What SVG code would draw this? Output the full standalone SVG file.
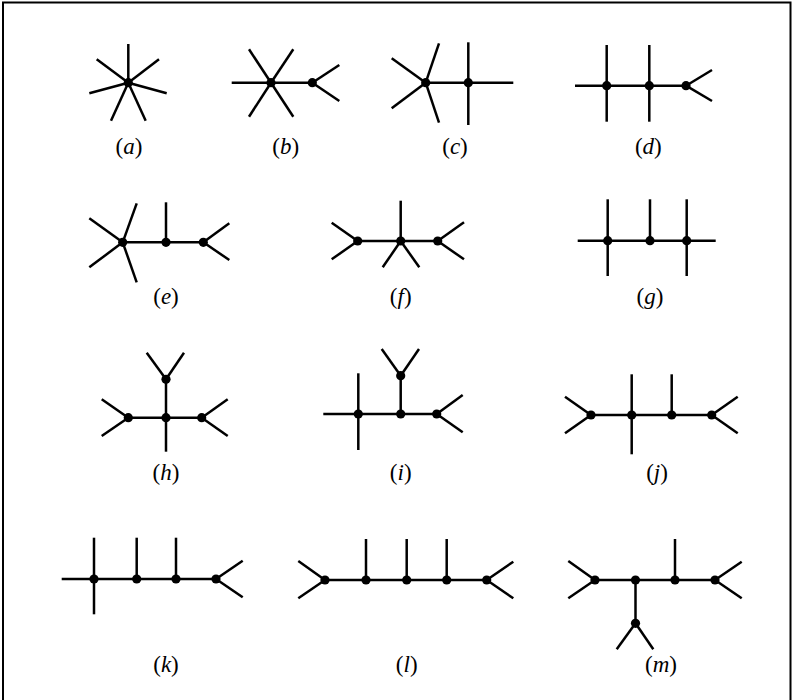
<svg xmlns="http://www.w3.org/2000/svg" width="793" height="700" viewBox="0 0 793 700">
<style>
.e{stroke:#000;stroke-width:2.5;stroke-linecap:butt;fill:none}
.v{fill:#000}
.lbl{font-family:"Liberation Serif","DejaVu Serif",serif;font-size:23px;fill:#000;text-anchor:middle}
.it{font-style:italic}
</style>
<rect x="0" y="0" width="793" height="700" fill="#fff"/>
<rect x="3" y="2.5" width="787.5" height="700" fill="none" stroke="#000" stroke-width="2"/>

<g id="fig-a">
<g class="connectors">
<line class="e" x1="128.3" y1="82.7" x2="128.3" y2="44"/>
<line class="e" x1="128.3" y1="82.7" x2="96.7" y2="59.3"/>
<line class="e" x1="128.3" y1="82.7" x2="159" y2="59.3"/>
<line class="e" x1="128.3" y1="82.7" x2="89.3" y2="93.3"/>
<line class="e" x1="128.3" y1="82.7" x2="166.7" y2="93.3"/>
<line class="e" x1="128.3" y1="82.7" x2="111" y2="120.7"/>
<line class="e" x1="128.3" y1="82.7" x2="145.7" y2="120.7"/>
</g>
<circle id="a1" class="v" cx="128.3" cy="82.7" r="4.6"/>
<text class="lbl" x="129" y="154">(<tspan class="it">a</tspan>)</text>
</g>

<g id="fig-b">
<g class="connectors">
<line class="e" x1="231.7" y1="82.7" x2="312.3" y2="82.7"/>
<line class="e" x1="271" y1="82.7" x2="249" y2="49.3"/>
<line class="e" x1="271" y1="82.7" x2="293.3" y2="49.3"/>
<line class="e" x1="271" y1="82.7" x2="249" y2="116.7"/>
<line class="e" x1="271" y1="82.7" x2="293.3" y2="116.7"/>
<line class="e" x1="312.3" y1="82.7" x2="339.3" y2="65"/>
<line class="e" x1="312.3" y1="82.7" x2="339.3" y2="101"/>
</g>
<circle id="b1" class="v" cx="271" cy="82.7" r="4.6"/>
<circle id="b2" class="v" cx="312.3" cy="82.7" r="4.6"/>
<text class="lbl" x="285.7" y="154">(<tspan class="it">b</tspan>)</text>
</g>

<g id="fig-c">
<g class="connectors">
<line class="e" x1="425.7" y1="82.7" x2="391.7" y2="58.3"/>
<line class="e" x1="425.7" y1="82.7" x2="391.7" y2="108.3"/>
<line class="e" x1="425.7" y1="82.7" x2="439" y2="43.3"/>
<line class="e" x1="425.7" y1="82.7" x2="439" y2="122.7"/>
<line class="e" x1="425.7" y1="82.7" x2="513.3" y2="82.7"/>
<line class="e" x1="468.3" y1="42.3" x2="468.3" y2="125"/>
</g>
<circle id="c1" class="v" cx="425.7" cy="82.7" r="4.6"/>
<circle id="c2" class="v" cx="468.3" cy="82.7" r="4.6"/>
<text class="lbl" x="455" y="154">(<tspan class="it">c</tspan>)</text>
</g>

<g id="fig-d">
<g class="connectors">
<line class="e" x1="575" y1="85.7" x2="686" y2="85.7"/>
<line class="e" x1="606.7" y1="45" x2="606.7" y2="121.7"/>
<line class="e" x1="649.3" y1="45" x2="649.3" y2="121.7"/>
<line class="e" x1="686" y1="85.7" x2="712" y2="70"/>
<line class="e" x1="686" y1="85.7" x2="712" y2="101"/>
</g>
<circle id="d1" class="v" cx="606.7" cy="85.7" r="4.6"/>
<circle id="d2" class="v" cx="649.3" cy="85.7" r="4.6"/>
<circle id="d3" class="v" cx="686" cy="85.7" r="4.6"/>
<text class="lbl" x="648.3" y="154">(<tspan class="it">d</tspan>)</text>
</g>

<g id="fig-e">
<g class="connectors">
<line class="e" x1="122.7" y1="242.3" x2="89.3" y2="218.3"/>
<line class="e" x1="122.7" y1="242.3" x2="89.3" y2="267.3"/>
<line class="e" x1="122.7" y1="242.3" x2="136.7" y2="203.3"/>
<line class="e" x1="122.7" y1="242.3" x2="136.7" y2="282.3"/>
<line class="e" x1="122.7" y1="242.3" x2="203.3" y2="242.3"/>
<line class="e" x1="166" y1="242.3" x2="166" y2="202.3"/>
<line class="e" x1="203.3" y1="242.3" x2="229.3" y2="223.3"/>
<line class="e" x1="203.3" y1="242.3" x2="229.3" y2="260"/>
</g>
<circle id="e1" class="v" cx="122.7" cy="242.3" r="4.6"/>
<circle id="e2" class="v" cx="166" cy="242.3" r="4.6"/>
<circle id="e3" class="v" cx="203.3" cy="242.3" r="4.6"/>
<text class="lbl" x="166" y="304">(<tspan class="it">e</tspan>)</text>
</g>

<g id="fig-f">
<g class="connectors">
<line class="e" x1="357.7" y1="241" x2="437.7" y2="241"/>
<line class="e" x1="357.7" y1="241" x2="331.7" y2="222.7"/>
<line class="e" x1="357.7" y1="241" x2="331.7" y2="259.3"/>
<line class="e" x1="400.7" y1="241" x2="400.7" y2="200.7"/>
<line class="e" x1="400.7" y1="241" x2="382.7" y2="267.3"/>
<line class="e" x1="400.7" y1="241" x2="419.3" y2="267.3"/>
<line class="e" x1="437.7" y1="241" x2="464" y2="222.3"/>
<line class="e" x1="437.7" y1="241" x2="464" y2="259.3"/>
</g>
<circle id="f1" class="v" cx="357.7" cy="241" r="4.6"/>
<circle id="f2" class="v" cx="400.7" cy="241" r="4.6"/>
<circle id="f3" class="v" cx="437.7" cy="241" r="4.6"/>
<text class="lbl" x="400.7" y="304">(<tspan class="it">f</tspan>)</text>
</g>

<g id="fig-g">
<g class="connectors">
<line class="e" x1="577.7" y1="240.7" x2="715.7" y2="240.7"/>
<line class="e" x1="607.7" y1="199.3" x2="607.7" y2="276"/>
<line class="e" x1="650" y1="199.3" x2="650" y2="240.7"/>
<line class="e" x1="686.7" y1="199.3" x2="686.7" y2="276"/>
</g>
<circle id="g1" class="v" cx="607.7" cy="240.7" r="4.6"/>
<circle id="g2" class="v" cx="650" cy="240.7" r="4.6"/>
<circle id="g3" class="v" cx="686.7" cy="240.7" r="4.6"/>
<text class="lbl" x="650" y="304">(<tspan class="it">g</tspan>)</text>
</g>

<g id="fig-h">
<g class="connectors">
<line class="e" x1="128.3" y1="417.7" x2="201.7" y2="417.7"/>
<line class="e" x1="166" y1="379.3" x2="166" y2="451.7"/>
<line class="e" x1="166" y1="379.3" x2="146.7" y2="352.7"/>
<line class="e" x1="166" y1="379.3" x2="184" y2="352.7"/>
<line class="e" x1="128.3" y1="417.7" x2="101.7" y2="399.3"/>
<line class="e" x1="128.3" y1="417.7" x2="101.7" y2="436"/>
<line class="e" x1="201.7" y1="417.7" x2="227.7" y2="399.3"/>
<line class="e" x1="201.7" y1="417.7" x2="227.7" y2="436"/>
</g>
<circle id="h1" class="v" cx="128.3" cy="417.7" r="4.6"/>
<circle id="h2" class="v" cx="166" cy="417.7" r="4.6"/>
<circle id="h3" class="v" cx="201.7" cy="417.7" r="4.6"/>
<circle id="h4" class="v" cx="166" cy="379.3" r="4.6"/>
<text class="lbl" x="166" y="480">(<tspan class="it">h</tspan>)</text>
</g>

<g id="fig-i">
<g class="connectors">
<line class="e" x1="323.3" y1="414" x2="436.7" y2="414"/>
<line class="e" x1="358.3" y1="373.3" x2="358.3" y2="450"/>
<line class="e" x1="400.7" y1="414" x2="400.7" y2="375.7"/>
<line class="e" x1="400.7" y1="375.7" x2="381.7" y2="349"/>
<line class="e" x1="400.7" y1="375.7" x2="419" y2="349"/>
<line class="e" x1="436.7" y1="414" x2="462.7" y2="395"/>
<line class="e" x1="436.7" y1="414" x2="462.7" y2="432.3"/>
</g>
<circle id="i1" class="v" cx="358.3" cy="414" r="4.6"/>
<circle id="i2" class="v" cx="400.7" cy="414" r="4.6"/>
<circle id="i3" class="v" cx="436.7" cy="414" r="4.6"/>
<circle id="i4" class="v" cx="400.7" cy="375.7" r="4.6"/>
<text class="lbl" x="400.7" y="480">(<tspan class="it">i</tspan>)</text>
</g>

<g id="fig-j">
<g class="connectors">
<line class="e" x1="591" y1="415" x2="711.7" y2="415"/>
<line class="e" x1="591" y1="415" x2="565" y2="396.7"/>
<line class="e" x1="591" y1="415" x2="565" y2="433.3"/>
<line class="e" x1="631.7" y1="374.3" x2="631.7" y2="454.3"/>
<line class="e" x1="671.7" y1="374.3" x2="671.7" y2="415"/>
<line class="e" x1="711.7" y1="415" x2="737.7" y2="396.7"/>
<line class="e" x1="711.7" y1="415" x2="737.7" y2="433.3"/>
</g>
<circle id="j1" class="v" cx="591" cy="415" r="4.6"/>
<circle id="j2" class="v" cx="631.7" cy="415" r="4.6"/>
<circle id="j3" class="v" cx="671.7" cy="415" r="4.6"/>
<circle id="j4" class="v" cx="711.7" cy="415" r="4.6"/>
<text class="lbl" x="657" y="480">(<tspan class="it">j</tspan>)</text>
</g>

<g id="fig-k">
<g class="connectors">
<line class="e" x1="61.7" y1="579" x2="216" y2="579"/>
<line class="e" x1="94" y1="537.7" x2="94" y2="614.3"/>
<line class="e" x1="136.7" y1="537.7" x2="136.7" y2="579"/>
<line class="e" x1="176" y1="537.7" x2="176" y2="579"/>
<line class="e" x1="216" y1="579" x2="242.7" y2="560.7"/>
<line class="e" x1="216" y1="579" x2="242.7" y2="597.3"/>
</g>
<circle id="k1" class="v" cx="94" cy="579" r="4.6"/>
<circle id="k2" class="v" cx="136.7" cy="579" r="4.6"/>
<circle id="k3" class="v" cx="176" cy="579" r="4.6"/>
<circle id="k4" class="v" cx="216" cy="579" r="4.6"/>
<text class="lbl" x="166" y="672">(<tspan class="it">k</tspan>)</text>
</g>

<g id="fig-l">
<g class="connectors">
<line class="e" x1="325" y1="580" x2="486.7" y2="580"/>
<line class="e" x1="325" y1="580" x2="298.3" y2="561"/>
<line class="e" x1="325" y1="580" x2="298.3" y2="598.3"/>
<line class="e" x1="366" y1="539" x2="366" y2="580"/>
<line class="e" x1="406.7" y1="539" x2="406.7" y2="580"/>
<line class="e" x1="446.7" y1="539" x2="446.7" y2="580"/>
<line class="e" x1="486.7" y1="580" x2="513.3" y2="561.7"/>
<line class="e" x1="486.7" y1="580" x2="513.3" y2="598.3"/>
</g>
<circle id="l1" class="v" cx="325" cy="580" r="4.6"/>
<circle id="l2" class="v" cx="366" cy="580" r="4.6"/>
<circle id="l3" class="v" cx="406.7" cy="580" r="4.6"/>
<circle id="l4" class="v" cx="446.7" cy="580" r="4.6"/>
<circle id="l5" class="v" cx="486.7" cy="580" r="4.6"/>
<text class="lbl" x="406.7" y="672">(<tspan class="it">l</tspan>)</text>
</g>

<g id="fig-m">
<g class="connectors">
<line class="e" x1="595" y1="580" x2="715" y2="580"/>
<line class="e" x1="595" y1="580" x2="568.3" y2="561"/>
<line class="e" x1="595" y1="580" x2="568.3" y2="598.3"/>
<line class="e" x1="635.5" y1="580" x2="635.5" y2="623.3"/>
<line class="e" x1="635.5" y1="623.3" x2="616.7" y2="649.3"/>
<line class="e" x1="635.5" y1="623.3" x2="653.3" y2="649.3"/>
<line class="e" x1="675" y1="539" x2="675" y2="580"/>
<line class="e" x1="715" y1="580" x2="741.7" y2="561.7"/>
<line class="e" x1="715" y1="580" x2="741.7" y2="598.3"/>
</g>
<circle id="m1" class="v" cx="595" cy="580" r="4.6"/>
<circle id="m2" class="v" cx="635.5" cy="580" r="4.6"/>
<circle id="m3" class="v" cx="675" cy="580" r="4.6"/>
<circle id="m4" class="v" cx="715" cy="580" r="4.6"/>
<circle id="m5" class="v" cx="635.5" cy="623.3" r="4.6"/>
<text class="lbl" x="661" y="672">(<tspan class="it">m</tspan>)</text>
</g>
</svg>
